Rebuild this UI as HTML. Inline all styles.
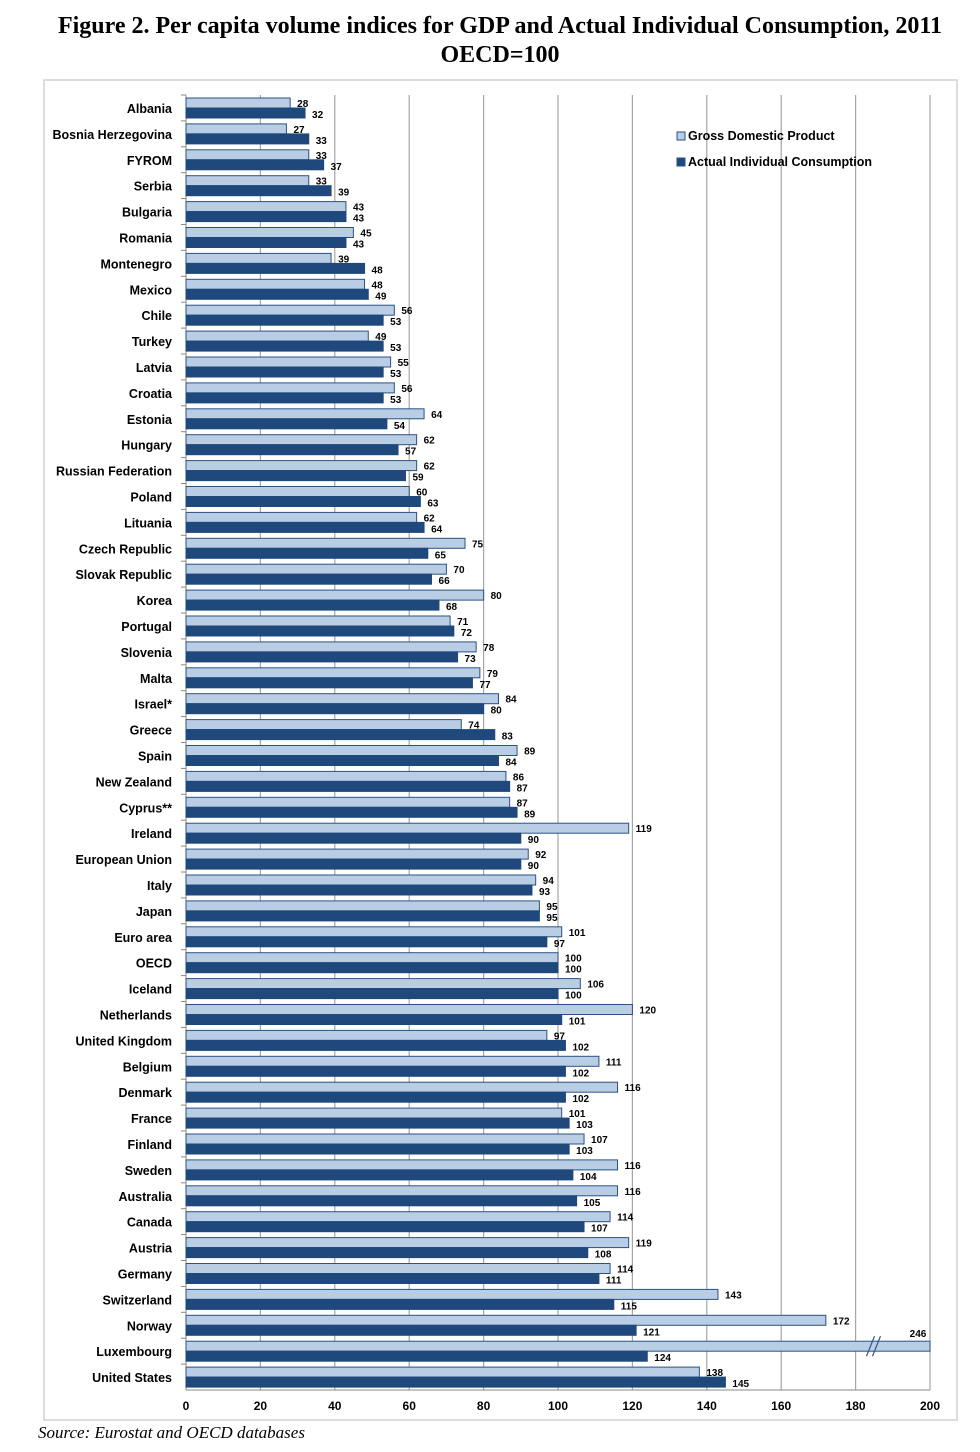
<!DOCTYPE html>
<html><head><meta charset="utf-8">
<style>
body{margin:0;background:#fff;width:980px;height:1452px;overflow:hidden;font-family:"Liberation Sans",sans-serif}
#title{position:absolute;left:0;width:1000px;top:12px;text-align:center;font-family:"Liberation Serif",serif;font-weight:bold;font-size:24px;line-height:29px;color:#000}
#src{position:absolute;left:38px;top:1423px;font-family:"Liberation Serif",serif;font-style:italic;font-size:17px}
svg{position:absolute;left:0;top:0}
</style></head><body>
<div id="title">Figure 2. Per capita volume indices for GDP and Actual Individual Consumption, 2011<br>OECD=100</div>
<svg id="chart" width="980" height="1452"></svg>
<div id="src">Source: Eurostat and OECD databases</div>
<script>
const categories=["Albania","Bosnia Herzegovina","FYROM","Serbia","Bulgaria","Romania","Montenegro","Mexico","Chile","Turkey","Latvia","Croatia","Estonia","Hungary","Russian Federation","Poland","Lituania","Czech Republic","Slovak Republic","Korea","Portugal","Slovenia","Malta","Israel*","Greece","Spain","New Zealand","Cyprus**","Ireland","European Union","Italy","Japan","Euro area","OECD","Iceland","Netherlands","United Kingdom","Belgium","Denmark","France","Finland","Sweden","Australia","Canada","Austria","Germany","Switzerland","Norway","Luxembourg","United States"];
const gdp=[28,27,33,33,43,45,39,48,56,49,55,56,64,62,62,60,62,75,70,80,71,78,79,84,74,89,86,87,119,92,94,95,101,100,106,120,97,111,116,101,107,116,116,114,119,114,143,172,246,138];
const aic=[32,33,37,39,43,43,48,49,53,53,53,53,54,57,59,63,64,65,66,68,72,73,77,80,83,84,87,89,90,90,93,95,97,100,100,101,102,102,102,103,103,104,105,107,108,111,115,121,124,145];
const xTicks=[0,20,40,60,80,100,120,140,160,180,200];
const svg=document.getElementById('chart');
const NS='http://www.w3.org/2000/svg';
const X0=186,X1=930,Y0=95,Y1=1390,MAX=200;
const x=v=>X0+(Math.min(v,MAX))/MAX*(X1-X0);
const rowH=(Y1-Y0)/categories.length;
function mk(t,a){const e=document.createElementNS(NS,t);for(const k in a)e.setAttribute(k,a[k]);svg.appendChild(e);return e;}
let e=mk('rect',{x:44,y:80,width:913,height:1340,fill:'none',stroke:'#d0d0d0','stroke-width':1.5});


xTicks.forEach(t=>{
  if(t>0){const g=mk('line',{x1:x(t),x2:x(t),y1:Y0,y2:Y1,stroke:'#a6a6a6','stroke-width':1.2});
  
  }
  const l=mk('text',{x:x(t),y:Y1+20,'text-anchor':'middle','font-size':12,'font-weight':'bold'});
  l.textContent=t;
  
  
});
e=mk('line',{x1:X0,x2:X0,y1:Y0,y2:Y1,stroke:'#888'});


e=mk('line',{x1:X0,x2:X1,y1:Y1,y2:Y1,stroke:'#888'});


categories.forEach((c,i)=>{
  const top=Y0+i*rowH;
  const tk=mk('line',{x1:X0-5,x2:X0,y1:top,y2:top,stroke:'#888'});
  
  
  const lab=mk('text',{x:172,y:top+18,'text-anchor':'end','font-size':12.5,'font-weight':'bold'});
  lab.textContent=c;
  
  
  const g=mk('rect',{x:X0,y:top+3,width:x(gdp[i])-X0,height:10,fill:'#b9cde5',stroke:'#2c5283','stroke-width':1});
  
  
  const a=mk('rect',{x:X0,y:top+13,width:x(aic[i])-X0,height:10,fill:'#1f497d',stroke:'#1f497d','stroke-width':1});
  
  
  const gl=mk('text',{x:gdp[i]>MAX?x(MAX)-12:x(gdp[i])+7,y:gdp[i]>MAX?top-1:top+12,'font-size':10,'font-weight':'bold','text-anchor':gdp[i]>MAX?'middle':'start'});
  gl.textContent=gdp[i];
  
  
  const al=mk('text',{x:x(aic[i])+7,y:top+23,'font-size':10,'font-weight':'bold'});
  al.textContent=aic[i];
  
  
  if(gdp[i]>MAX){
    [0,6].forEach(d=>{const b=mk('line',{x1:x(184)+d-4,y1:top+18,x2:x(184)+d+4,y2:top-2,stroke:'#2c5283','stroke-width':1.2});
    
    });
  }
});
[['Gross Domestic Product','#b9cde5',140],['Actual Individual Consumption','#1f497d',166]].forEach((L,k)=>{
  const r=mk('rect',{x:677,y:L[2]-8,width:8,height:8,fill:L[1],stroke:'#2c5283'});
  
  
  const t=mk('text',{x:688,y:L[2],'font-size':12.5,'font-weight':'bold'});
  t.textContent=L[0];
  
  
});
</script>
</body></html>
